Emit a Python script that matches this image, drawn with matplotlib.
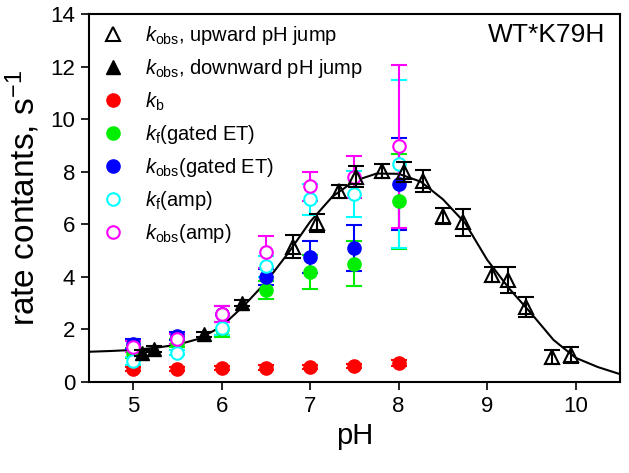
import numpy as np
import matplotlib.pyplot as plt

plt.rcParams['font.family'] = ['Liberation Sans', 'DejaVu Sans']
plt.rcParams['mathtext.fontset'] = 'custom'
plt.rcParams['mathtext.rm'] = 'Liberation Sans'
plt.rcParams['mathtext.it'] = 'Liberation Sans:italic'

# k_obs, upward pH jump (open triangles)
up_ph = [6.81, 7.08, 7.33, 7.52, 7.81, 8.06, 8.28, 8.50, 8.73, 9.06, 9.24, 9.44, 9.73, 9.95]
up_k = [5.15, 6.05, 7.25, 7.80, 8.02, 8.00, 7.64, 6.32, 6.07, 4.08, 3.89, 2.86, 0.95, 1.03]
up_err = [0.45, 0.35, 0.25, 0.40, 0.27, 0.38, 0.41, 0.30, 0.52, 0.29, 0.50, 0.37, 0.25, 0.29]

# k_obs, downward pH jump (filled triangles)
down_ph = [5.10, 5.24, 5.80, 6.23]
down_k = [1.10, 1.26, 1.82, 3.00]
down_err = [0.10, 0.10, 0.10, 0.12]

# amplitude / gated ET series at common pH values
ph = [5.0, 5.5, 6.0, 6.5, 7.0, 7.5, 8.0]
kb = [0.50, 0.50, 0.52, 0.55, 0.57, 0.60, 0.72]
kb_err = [0.08, 0.08, 0.08, 0.08, 0.08, 0.08, 0.10]
kf_gated = [1.10, 1.50, 2.00, 3.50, 4.20, 4.50, 6.87]
kf_gated_err = [0.20, 0.15, 0.30, 0.35, 0.65, 0.86, 1.80]
kobs_gated = [1.45, 1.75, 2.60, 4.00, 4.75, 5.10, 7.55]
kobs_gated_err = [0.20, 0.15, 0.30, 0.30, 0.60, 0.87, 1.75]
kf_amp = [0.80, 1.12, 2.05, 4.40, 6.95, 7.14, 8.28]
kf_amp_err = [0.15, 0.10, 0.25, 0.40, 0.60, 0.87, 3.20]
kobs_amp = [1.35, 1.64, 2.60, 4.95, 7.45, 7.79, 8.97]
kobs_amp_err = [0.20, 0.20, 0.30, 0.60, 0.55, 0.80, 3.10]

# fitted curve
fit_ph = [4.5, 4.75, 5.0, 5.25, 5.5, 5.75, 6.0, 6.25, 6.5, 6.75, 7.0, 7.25, 7.5,
          7.75, 8.0, 8.25, 8.5, 8.75, 9.0, 9.25, 9.5, 9.75, 10.0, 10.25, 10.5]
fit_k = [1.15, 1.18, 1.22, 1.30, 1.42, 1.65, 2.12, 2.90, 3.80, 4.90, 6.10, 7.05, 7.65,
         7.93, 7.92, 7.62, 6.95, 6.05, 4.65, 3.55, 2.60, 1.60, 0.92, 0.57, 0.30]

fig = plt.figure(figsize=(6.29, 4.73), dpi=100)
ax = fig.add_axes([0.1415, 0.1924, 0.844, 0.778])

ax.plot(fit_ph, fit_k, color='black', lw=1.5, zorder=1)

eb = dict(capsize=5.5, elinewidth=1.5, capthick=1.5, linestyle='none')
h1 = ax.errorbar(up_ph, up_k, yerr=up_err, marker='^', ms=9.5, mfc='none', mec='black', mew=1.5,
                 color='black', zorder=3, **eb)
h2 = ax.errorbar(down_ph, down_k, yerr=down_err, marker='^', ms=9.5, color='black', zorder=3, **eb)
h3 = ax.errorbar(ph, kb, yerr=kb_err, marker='o', ms=9.5, color='#ff0000', zorder=2, **eb)
h4 = ax.errorbar(ph, kf_gated, yerr=kf_gated_err, marker='o', ms=9.5, color='#00ee00', zorder=2, **eb)
h5 = ax.errorbar(ph, kobs_gated, yerr=kobs_gated_err, marker='o', ms=9.5, color='#0000ff', zorder=2, **eb)
h6 = ax.errorbar(ph, kf_amp, yerr=kf_amp_err, marker='o', ms=9, mfc='white', mew=1.5,
                 color='#00ffff', zorder=2, **eb)
h7 = ax.errorbar(ph, kobs_amp, yerr=kobs_amp_err, marker='o', ms=9, mfc='white', mew=1.5,
                 color='#ff00ff', zorder=2, **eb)

labels = [r'$k_{\rm obs}$, upward pH jump', r'$k_{\rm obs}$, downward pH jump', r'$k_{\rm b}$',
          r'$k_{\rm f}$(gated ET)', r'$k_{\rm obs}$(gated ET)', r'$k_{\rm f}$(amp)', r'$k_{\rm obs}$(amp)']
handles = [h[0] for h in (h1, h2, h3, h4, h5, h6, h7)]

ax.set_xlim(4.5, 10.5)
ax.set_ylim(0, 14)
ax.set_xticks([5, 6, 7, 8, 9, 10])
ax.set_yticks(range(0, 15, 2))
ax.tick_params(direction='out', labelsize=16, width=1.2, length=6, pad=4)
for s in ax.spines.values():
    s.set_linewidth(1.5)

ax.set_xlabel('pH', fontsize=21, labelpad=4)
ax.set_ylabel(r'rate contants, s$^{-1}$', fontsize=24, labelpad=6)
ax.text(0.972, 0.975, 'WT*K79H', transform=ax.transAxes, ha='right', va='top', fontsize=19)

ax.legend(handles, labels, loc='upper left', frameon=False, fontsize=14.5, labelspacing=0.5,
          handlelength=1.4, handletextpad=0.9, borderaxespad=0.1)

fig.savefig('out.png', dpi=100)
